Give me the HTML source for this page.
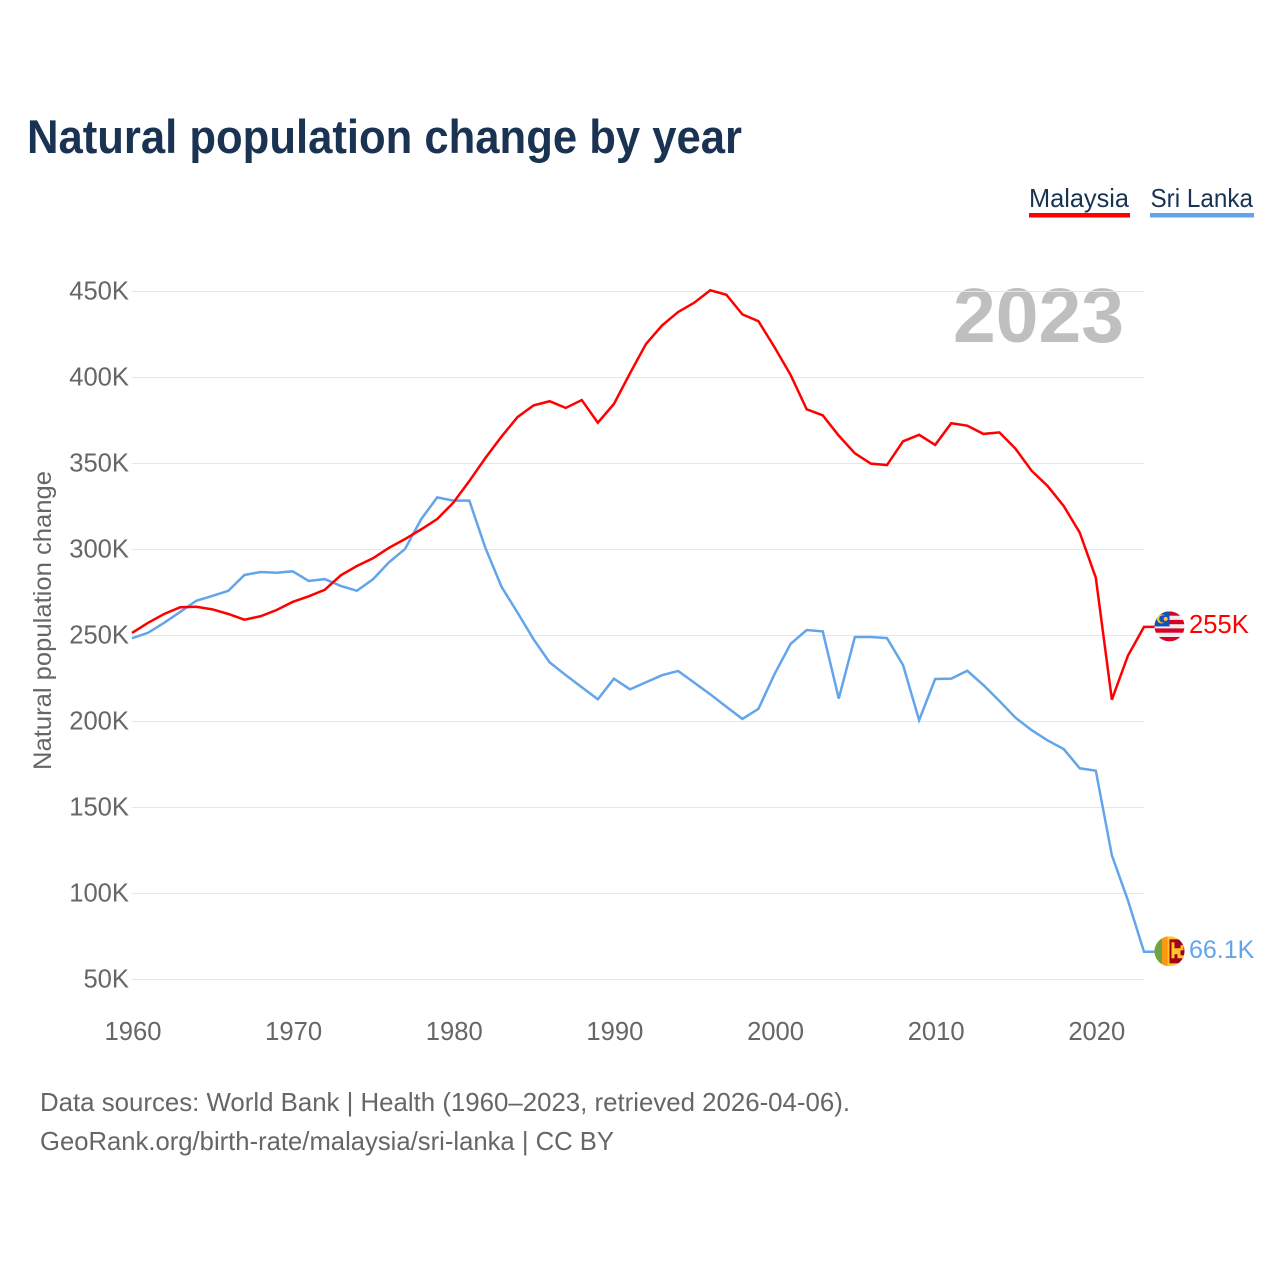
<!DOCTYPE html>
<html lang="en">
<head>
<meta charset="utf-8">
<title>Natural population change by year</title>
<style>
html,body{margin:0;padding:0;background:#fff;width:1280px;height:1280px;overflow:hidden}
svg{display:block;font-family:"Liberation Sans",sans-serif}
</style>
</head>
<body>
<svg id="chart" width="1280" height="1280" viewBox="0 0 1280 1280" xmlns="http://www.w3.org/2000/svg">
  <rect width="1280" height="1280" fill="#fff"/>
  <text x="27" y="153" font-size="47" font-weight="700" fill="#1a3353" textLength="715" lengthAdjust="spacingAndGlyphs">Natural population change by year</text>
  <g>
    <g>
      <text x="1029" y="207" font-size="26" fill="#1a3353" textLength="100" lengthAdjust="spacingAndGlyphs">Malaysia</text>
      <rect x="1029" y="213" width="101" height="4.5" fill="#ff0000"/>
    </g>
    <g>
      <text x="1150.5" y="207" font-size="26" fill="#1a3353" textLength="102.5" lengthAdjust="spacingAndGlyphs">Sri Lanka</text>
      <rect x="1150" y="213" width="104" height="4.5" fill="#62a5ea"/>
    </g>
  </g>
  <text transform="translate(51,770) rotate(-90)" font-size="25" fill="#666" textLength="299" lengthAdjust="spacingAndGlyphs">Natural population change</text>
  <text x="953" y="342" font-size="77" font-weight="700" fill="#bfbfbf" textLength="171" lengthAdjust="spacingAndGlyphs">2023</text>
  <g id="grid"></g>
  <g id="yticks"></g>
  <g id="xticks"></g>
  <g id="series"></g>
  <defs>
    <clipPath id="flag-clip"><circle cx="0" cy="0" r="15"/></clipPath>
  </defs>
  <g id="flag-my" clip-path="url(#flag-clip)">
    <rect x="-15" y="-15" width="30" height="30" fill="#eee"/>
    <rect x="-15" y="-15" width="30" height="4.3" fill="#d80027"/>
    <rect x="-15" y="-6.5" width="30" height="4.3" fill="#d80027"/>
    <rect x="-15" y="2" width="30" height="4.3" fill="#d80027"/>
    <rect x="-15" y="10.6" width="30" height="4.4" fill="#d80027"/>
    <rect x="-15" y="-15" width="15" height="15" fill="#0f52ba"/>
    <circle cx="-8" cy="-7.5" r="4.6" fill="#ffc72c"/>
    <circle cx="-6.6" cy="-7.5" r="3.7" fill="#0f52ba"/>
    <circle cx="-3.8" cy="-7.5" r="2" fill="#ffc72c"/>
  </g>
  <g id="flag-lk" clip-path="url(#flag-clip)">
    <rect x="-15" y="-15" width="30" height="30" fill="#ffc72c"/>
    <rect x="-15" y="-15" width="7.5" height="30" fill="#6da544"/>
    <rect x="-7.5" y="-15" width="5.5" height="30" fill="#ff9811"/>
    <rect x="0" y="-12" width="15" height="24" fill="#a2001d"/>
    <path d="M2 -9h3v6h6v-3h3v5h-3v5h3v3h-6v-4h-3v4h-3z" fill="#ffc72c"/>
  </g>
  <text id="end-my" font-size="25.6" fill="#ff0000"></text>
  <text id="end-lk" font-size="25" fill="#62a5ea"></text>
  <g>
    <text x="40" y="1111" font-size="26" fill="#666" textLength="810" lengthAdjust="spacingAndGlyphs">Data sources: World Bank | Health (1960–2023, retrieved 2026-04-06).</text>
    <text x="40" y="1150" font-size="26" fill="#666" textLength="574" lengthAdjust="spacingAndGlyphs">GeoRank.org/birth-rate/malaysia/sri-lanka | CC BY</text>
  </g>
</svg>
<script>
var startYear = 1960;
var yTickValues = [50, 100, 150, 200, 250, 300, 350, 400, 450];
var yTickLabels = ['50K', '100K', '150K', '200K', '250K', '300K', '350K', '400K', '450K'];
var xTickYears = [1960, 1970, 1980, 1990, 2000, 2010, 2020];
var malaysiaValues = [251.5,257.4,262.5,266.4,266.7,265.2,262.5,259.2,261.2,264.8,269.5,272.8,276.6,285,290.4,294.9,301,306.1,311.7,317.7,327.2,339.8,353.2,365.6,377,383.8,386.2,382.3,386.9,373.7,384.6,402.4,419.5,430.3,438.1,443.5,450.7,448.1,436.7,432.7,417.6,401.5,381.5,378,366.2,355.9,349.9,349.1,362.9,366.7,360.8,373.4,372,367.2,368.1,358.6,345.8,336.9,325.3,309.8,283.6,212.7,238.3,255];
var sriLankaValues = [248.4,251.6,257.4,263.7,270.2,273,276,285.2,286.9,286.5,287.3,281.7,282.8,278.8,276,282.7,292.6,300.3,317.6,330.3,328.4,328.4,300.9,278.4,263.3,247.8,234.4,227,219.9,212.9,224.9,218.7,222.8,226.9,229.4,222.6,215.8,208.6,201.5,207.4,227.6,245.1,253.2,252.4,213.3,249.1,249.1,248.5,232.8,200.8,224.7,224.9,229.5,221.2,211.9,202.2,195,189,184,172.8,171.4,122.2,96,66.1];

var NS = 'http://www.w3.org/2000/svg';
function xScale(year) { return 132 + (year - 1960) * (1012 / 63); }
function yScale(v) { return 979.5 - (v - 50) * 1.72; }
function make(tag, attrs, parent) {
  var el = document.createElementNS(NS, tag);
  for (var k in attrs) el.setAttribute(k, attrs[k]);
  parent.appendChild(el);
  return el;
}
function formatEnd(v) {
  return (v >= 100 ? String(Math.round(v)) : v.toFixed(1)) + 'K';
}
var gridG = document.getElementById('grid');
var yG = document.getElementById('yticks');
var xG = document.getElementById('xticks');
var seriesG = document.getElementById('series');

yTickValues.forEach(function (v, i) {
  var line = make('line', {x1: 132, x2: 1144, y1: yScale(v), y2: yScale(v), stroke: '#e6e6e6', 'stroke-width': 1}, gridG);
  
  
  var t = make('text', {x: 129, y: yScale(v) + 7.8, 'text-anchor': 'end', 'font-size': 25.6, fill: '#666'}, yG);
  t.textContent = yTickLabels[i];
  
  
});

xTickYears.forEach(function (yr) {
  var t = make('text', {x: xScale(yr) + 1, y: 1040, 'text-anchor': 'middle', 'font-size': 25.6, fill: '#666'}, xG);
  t.textContent = String(yr);
  
  
});

function drawSeries(values, color) {
  var pts = values.map(function (v, i) { return xScale(startYear + i).toFixed(2) + ',' + yScale(v).toFixed(2); });
  var lastY = yScale(values[values.length - 1]);
  pts.push((xScale(startYear + values.length - 1) + 11).toFixed(2) + ',' + lastY.toFixed(2));
  return make('polyline', {points: pts.join(' '), fill: 'none', stroke: color, 'stroke-width': 2.5, 'stroke-linejoin': 'miter'}, seriesG);
}
var lineLk = drawSeries(sriLankaValues, '#62a5ea');


var lineMy = drawSeries(malaysiaValues, '#ff0000');



function placeEnd(values, flagId, labelId) {
  var v = values[values.length - 1];
  var y = yScale(v);
  document.getElementById(flagId).setAttribute('transform', 'translate(1169.5,' + (y - 0.5).toFixed(2) + ')');
  var t = document.getElementById(labelId);
  t.setAttribute('x', 1189);
  t.setAttribute('y', (y + 6).toFixed(2));
  t.textContent = formatEnd(v);
}
placeEnd(malaysiaValues, 'flag-my', 'end-my');
placeEnd(sriLankaValues, 'flag-lk', 'end-lk');
</script>
</body>
</html>
